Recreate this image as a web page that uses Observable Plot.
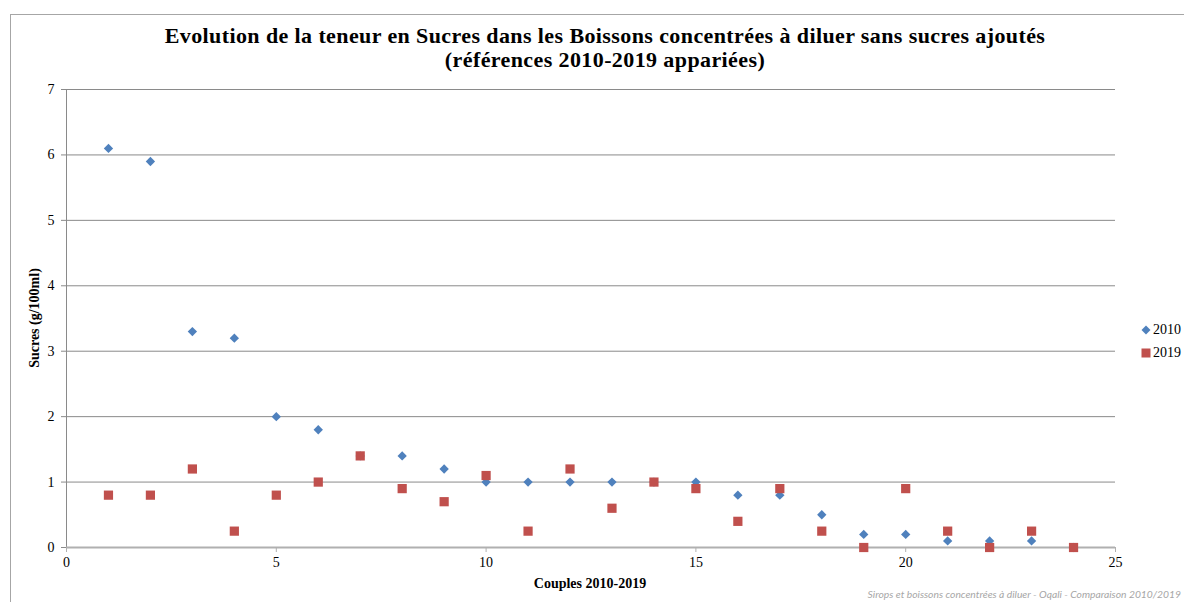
<!DOCTYPE html>
<html>
<head>
<meta charset="utf-8">
<script src="https://cdn.jsdelivr.net/npm/d3@7"></script>
<script src="https://cdn.jsdelivr.net/npm/@observablehq/plot@0.6"></script>
<style>
  html, body { margin: 0; padding: 0; background: #fff; overflow: hidden; }
  #wrap { position: relative; width: 1184px; height: 602px; overflow: hidden; background: #fff; }
  #frame { position: absolute; left: 10px; top: 14px; width: 1300px; height: 700px; border: 1px solid #a6a6a6; box-sizing: border-box; }
  #chart { position: absolute; left: 0; top: 0; }
  #title { position: absolute; left: 10px; top: 24px; width: 1190px; text-align: center;
           font-family: "Liberation Serif", serif; font-weight: bold; font-size: 22px; letter-spacing: 0.4px; line-height: 24px; color: #000; }
  .axt { position: absolute; font-family: "Liberation Serif", serif; font-weight: bold; font-size: 14px; color: #000; white-space: nowrap; }
  #ylab { left: 35px; top: 318px; transform: translate(-50%, -50%) rotate(-90deg); }
  #xlab { left: 590px; top: 584px; transform: translate(-50%, -50%); }
  #legend { position: absolute; left: 1141px; top: 318px; font-family: "Liberation Serif", serif; font-size: 14px; color: #000; }
  #legend div { display: flex; align-items: center; height: 23px; white-space: nowrap; }
  #legend svg { margin-right: 2px; }
  #caption { position: absolute; right: 3px; top: 588px; font-family: "Lato", sans-serif; font-style: italic; font-size: 10.3px; color: #a6a6a6; white-space: nowrap; }
</style>
</head>
<body>
<div id="wrap">
  <div id="frame"></div>
  <div id="chart"></div>
  <div id="title">Evolution de la teneur en Sucres dans les Boissons concentrées à diluer sans sucres ajoutés<br>(références 2010-2019 appariées)</div>
  <div id="ylab" class="axt">Sucres (g/100ml)</div>
  <div id="xlab" class="axt">Couples 2010-2019</div>
  <div id="legend"></div>
  <div id="caption">Sirops et boissons concentrées à diluer - Oqali - Comparaison 2010/2019</div>
</div>
<script>
const couples = [1, 2, 3, 4, 5, 6, 7, 8, 9, 10, 11, 12, 13, 14, 15, 16, 17, 18, 19, 20, 21, 22, 23, 24];
const sucres2010 = [6.1, 5.9, 3.3, 3.2, 2.0, 1.8, 1.4, 1.4, 1.2, 1.0, 1.0, 1.0, 1.0, 1.0, 1.0, 0.8, 0.8, 0.5, 0.2, 0.2, 0.1, 0.1, 0.1, 0];
const sucres2019 = [0.8, 0.8, 1.2, 0.25, 0.8, 1.0, 1.4, 0.9, 0.7, 1.1, 0.25, 1.2, 0.6, 1.0, 0.9, 0.4, 0.9, 0.25, 0, 0.9, 0.25, 0, 0.25, 0];
const seriesNames = ["2010", "2019"];
const xTicks = [0, 5, 10, 15, 20, 25];
const yTicks = [0, 1, 2, 3, 4, 5, 6, 7];

const colors = {"2010": "#4F81BD", "2019": "#C0504D"};

const d2010 = couples.map((c, i) => ({couple: c, sucres: sucres2010[i]}));
const d2019 = couples.map((c, i) => ({couple: c, sucres: sucres2019[i]}));

const chart = Plot.plot({
  width: 1184,
  height: 602,
  marginLeft: 66,
  marginRight: 69,
  marginTop: 89,
  marginBottom: 55,
  x: {domain: [0, 25]},
  y: {domain: [0, 7]},
  style: {fontFamily: "Liberation Serif, serif", fontSize: "14px", color: "#000", background: "transparent"},
  marks: [
    Plot.gridY(yTicks.filter(d => d > 0), {stroke: "#8a8a8a", strokeOpacity: 1, strokeWidth: 1}),
    Plot.ruleX([0], {stroke: "#8a8a8a", strokeWidth: 1}),
    Plot.ruleY([0], {stroke: "#b0b0b0", strokeWidth: 2}),
    Plot.axisY(yTicks, {tickSize: 5, tickPadding: 7, stroke: "#8a8a8a", fill: "#000", label: null, tickFormat: d3.format("d")}),
    Plot.axisX(xTicks, {tickSize: 5, tickPadding: 5, stroke: "#b0b0b0", fill: "#000", label: null, tickFormat: d3.format("d")}),
    Plot.dot(d2010, {x: "couple", y: "sucres", symbol: "diamond2", fill: colors["2010"], stroke: "none", r: 4.2}),
    Plot.dot(d2019, {x: "couple", y: "sucres", symbol: "square", fill: colors["2019"], stroke: "none", r: 5.2})
  ]
});
document.getElementById("chart").appendChild(chart);

const legend = document.getElementById("legend");
seriesNames.forEach(name => {
  const row = document.createElement("div");
  const shape = name === "2010"
    ? `<svg width="10" height="10"><path d="M5,0.5L9.5,5L5,9.5L0.5,5Z" fill="${colors[name]}"/></svg>`
    : `<svg width="10" height="10"><rect x="0.5" y="0.5" width="9" height="9" fill="${colors[name]}"/></svg>`;
  row.innerHTML = shape + `<span>${name}</span>`;
  legend.appendChild(row);
});
</script>
</body>
</html>
